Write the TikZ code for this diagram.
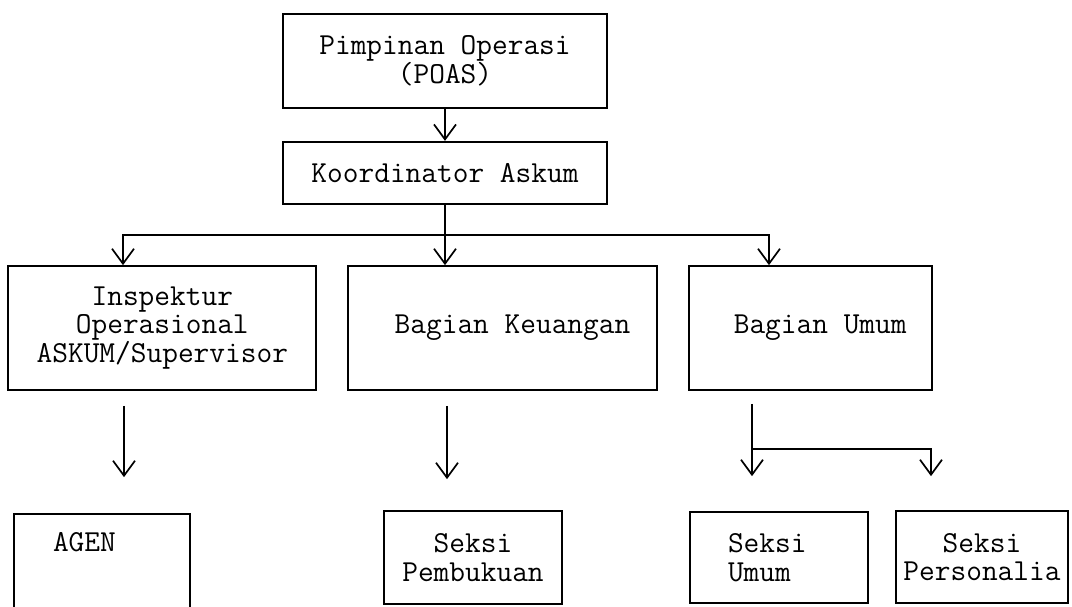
\documentclass[tikz,border=0pt]{standalone}
\usepackage{fontspec}
\usetikzlibrary{arrows.meta, positioning}

\begin{document}
\begin{tikzpicture}[x=1pt, y=-1pt, line width=1.7pt,
    font=\ttfamily\fontsize{30.5}{28.5}\selectfont,
    >={Straight Barb[length=15pt, width=22pt]}, node distance=30pt,
    box/.style={draw, inner sep=0pt, align=center}]
    \useasboundingbox (0,0) rectangle (1072,607);
    \clip (0,0) rectangle (1072,607);
    \node[box, minimum width=324pt, minimum height=94pt] (poas) at (445,61) {Pimpinan Operasi\\(POAS)};
    \node[box, minimum width=324pt, minimum height=62pt, below=32pt of poas] (koord) {Koordinator Askum};
    \node[box, minimum width=309pt, minimum height=124pt] (keu) at (502.5,328) {\hspace*{20pt}Bagian Keuangan};
    \node[box, minimum width=308pt, minimum height=124pt, left=of keu] (insp) {Inspektur\\Operasional\\ASKUM/Supervisor};
    \node[box, minimum width=243pt, minimum height=124pt, right=of keu] (umum) {\hspace*{20pt}Bagian Umum};
    \node[box, minimum width=176pt, text width=98pt, align=left, text height=37pt, text depth=69pt] (agen) at (102,567) {AGEN};
    \node[box, minimum width=178pt, minimum height=93pt] (pemb) at (473,557.5) {Seksi\\Pembukuan};
    \node[box, minimum width=178pt, minimum height=91pt, text width=102pt, align=left] (sumum) at (779,557.5) {Seksi\\Umum};
    \node[box, minimum width=172pt, minimum height=92pt] (pers) at (982,557) {Seksi\\Personalia};
    \coordinate (pusat) at (445,235);
    \coordinate (kiri) at (123,235);
    \coordinate (kanan) at (769,235);
    \coordinate (xagen) at (124,0);
    \coordinate (xpemb) at (447,0);
    \coordinate (cabang) at (752,449);
    \coordinate (xpers) at (931,449);
    \draw[->] (poas) -- (koord);
    \draw (koord) -- (pusat);
    \draw[->] (pusat) -- (pusat |- keu.north);
    \draw[->] (pusat) -- (kiri) -- (kiri |- insp.north);
    \draw[->] (pusat) -- (kanan) -- (kanan |- umum.north);
    \draw[->, shorten <=15pt, shorten >=36pt] (insp.south -| xagen) -- (agen.north -| xagen);
    \draw[->, shorten <=15pt, shorten >=31pt] (keu.south -| xpemb) -- (pemb.north -| xpemb);
    \draw[->, shorten <=13pt, shorten >=35pt] (umum.south -| cabang) -- (sumum.north -| cabang);
    \draw[->, shorten >=34pt] (cabang) -- (xpers) -- (xpers |- pers.north);
\end{tikzpicture}
\end{document}
